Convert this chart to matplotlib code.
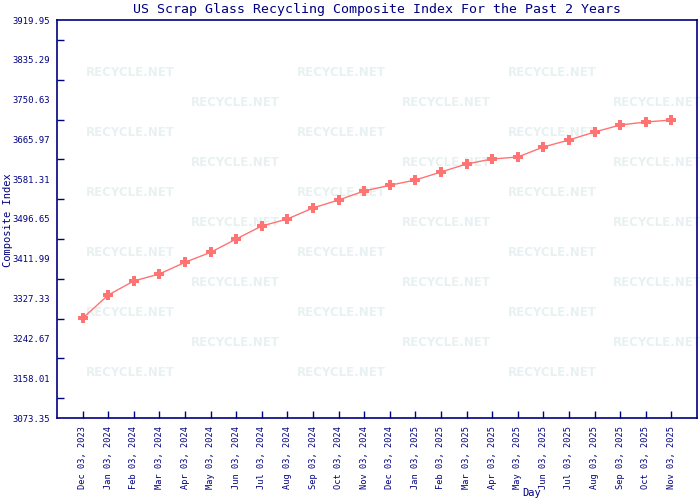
import matplotlib
matplotlib.use("Agg")
import matplotlib.pyplot as plt
import numpy as np

# values
days = ["Dec 03, 2023", "Jan 03, 2024", "Feb 03, 2024", "Mar 03, 2024", "Apr 03, 2024",
        "May 03, 2024", "Jun 03, 2024", "Jul 03, 2024", "Aug 03, 2024", "Sep 03, 2024",
        "Oct 03, 2024", "Nov 03, 2024", "Dec 03, 2024", "Jan 03, 2025", "Feb 03, 2025",
        "Mar 03, 2025", "Apr 03, 2025", "May 03, 2025", "Jun 03, 2025", "Jul 03, 2025",
        "Aug 03, 2025", "Sep 03, 2025", "Oct 03, 2025", "Nov 03, 2025"]
index_values = [3285.4, 3334.9, 3364.8, 3379.7, 3404.5, 3425.8, 3454.1, 3481.8,
                3496.7, 3520.1, 3537.1, 3556.2, 3568.4, 3579.6, 3596.6, 3613.7,
                3624.3, 3628.5, 3649.8, 3664.7, 3681.7, 3696.6, 3703.0, 3707.2]
y_ticks = [3073.35, 3158.01, 3242.67, 3327.33, 3411.99, 3496.65, 3581.31,
           3665.97, 3750.63, 3835.29, 3919.95]

navy = "#000080"
mono = "DejaVu Sans Mono"

fig = plt.figure(figsize=(7, 5), dpi=100)
ax = fig.add_axes([57 / 700, 1 - 418 / 500, 640 / 700, 398 / 500])

# faint watermark, like the original
for r in range(11):
    yy = 1 - (73 + 30 * r - 20) / 398
    xs = [130, 341, 552] if r % 2 == 0 else [235, 446, 657]
    for xx in xs:
        ax.text((xx - 57) / 640, yy, "RECYCLE.NET", transform=ax.transAxes,
                ha="center", va="center", fontsize=8.5, fontweight="bold",
                color="#e8f1f1", zorder=0)

x = np.arange(len(days))
ax.plot(x, index_values, color="#ff7373", lw=1, zorder=3)
ax.plot(x, index_values, ls="none", color="#ff7373", marker="P", markersize=7.5,
        markeredgewidth=0, zorder=4)

ax.set_xlim(-1, len(days))
ax.set_ylim(y_ticks[0], y_ticks[-1])
ax.set_xticks(x)
ax.set_xticklabels(days, rotation=90, fontsize=6.2, family=mono, color=navy)
ax.set_yticks(y_ticks)
ax.set_yticklabels(["%.2f" % v for v in y_ticks], fontsize=6.4, family=mono, color=navy)
ax.set_yticks([(a + b) / 2 for a, b in zip(y_ticks[:-1], y_ticks[1:])], minor=True)

ax.tick_params(axis="y", which="major", length=0, pad=5)
ax.tick_params(axis="y", which="minor", direction="in", length=5, color=navy, width=1)
ax.tick_params(axis="x", direction="in", length=5, color=navy, width=1, pad=6)

for s in ax.spines.values():
    s.set_color(navy)
    s.set_linewidth(1.2)

ax.set_title("US Scrap Glass Recycling Composite Index For the Past 2 Years",
             fontsize=9.5, family=mono, color=navy, pad=5)
fig.text(8 / 700, 1 - 220 / 500, "Composite Index", rotation=90, fontsize=7.5,
         family=mono, color=navy, ha="center", va="center")
fig.text(532 / 700, 1 - 493 / 500, "Day", fontsize=7.5, family=mono, color=navy,
         ha="center", va="center")

fig.savefig("out.png", dpi=100)
